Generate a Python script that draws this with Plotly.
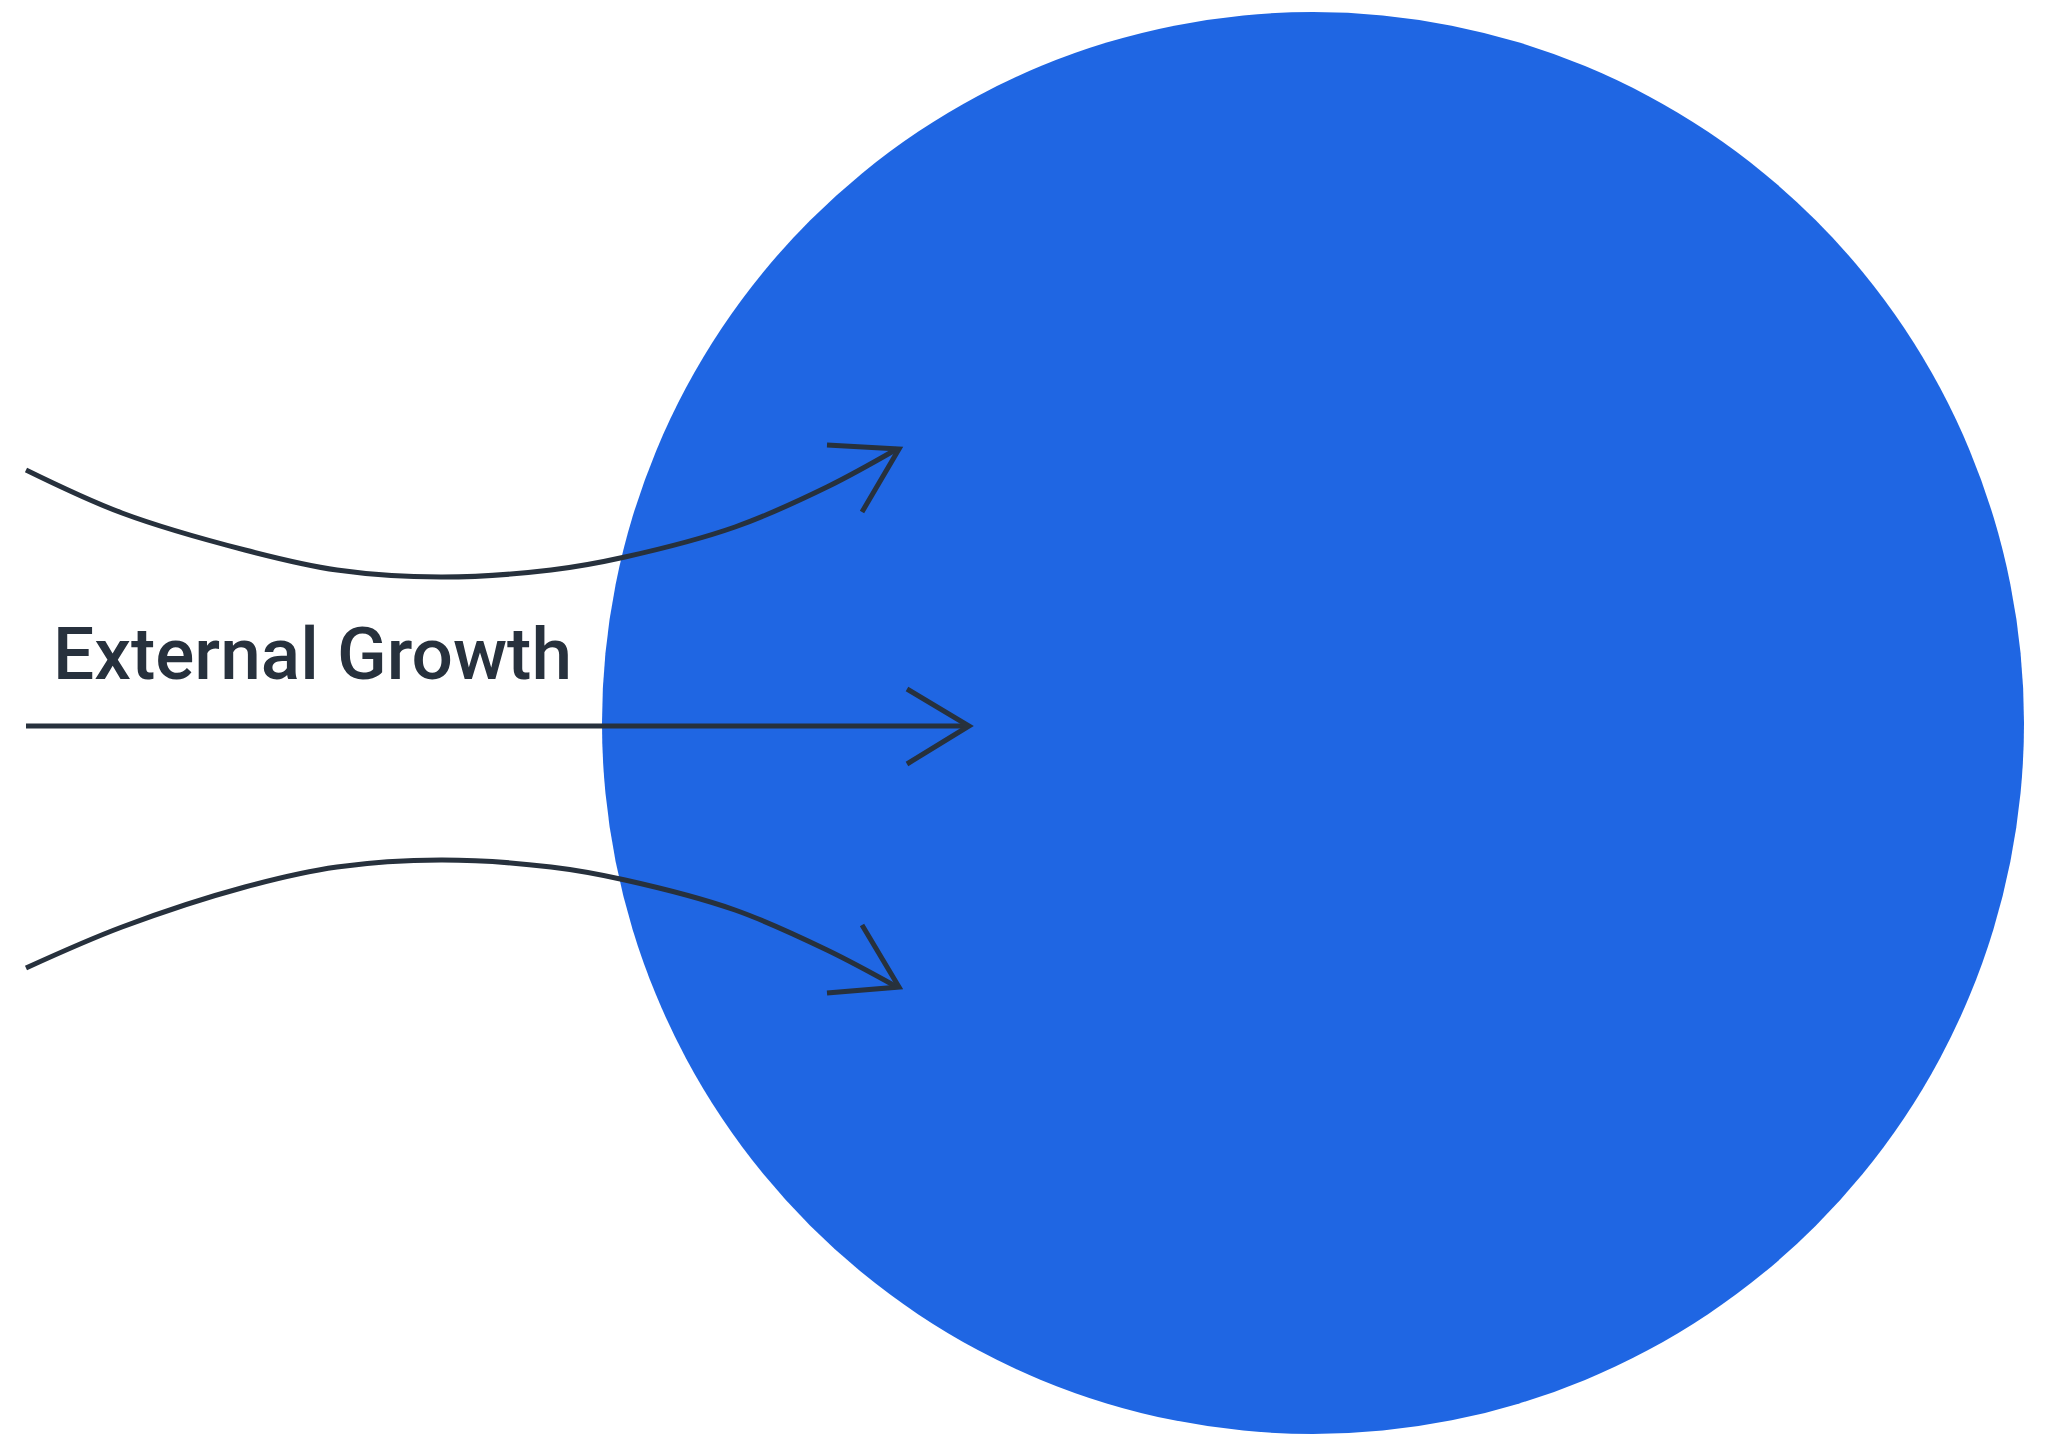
import plotly.graph_objects as go

# Canvas (pixel-based coordinate system, y downward)
W, H = 2052, 1440

# Circle
circle_center = [1313, 723]
circle_radius = 711
circle_color = "#1F66E3"
ink = "#27313D"

# Curved / straight arrows: shaft points
top_x = [26, 122, 245, 337, 441, 551, 625, 735, 827, 897]
top_y = [470, 513, 550, 570, 577, 570, 557, 527, 487, 449]
mid_x = [26, 969]
mid_y = [726, 726]
bot_x = [26, 122, 245, 337, 441, 551, 625, 735, 827, 897]
bot_y = [968, 927, 887, 867, 860, 867, 880, 910, 950, 987]

# Arrowheads: arm, tip, arm
top_head_x = [827, 899, 862]
top_head_y = [445, 449, 512]
mid_head_x = [907, 969, 907]
mid_head_y = [689, 726, 764]
bot_head_x = [827, 899, 862]
bot_head_y = [993, 987, 925]

label = "External Growth"
label_pos = [51, 654]

fig = go.Figure()

fig.add_shape(type="circle", xref="x", yref="y",
              x0=circle_center[0] - circle_radius, x1=circle_center[0] + circle_radius,
              y0=circle_center[1] - circle_radius, y1=circle_center[1] + circle_radius,
              fillcolor=circle_color, line=dict(width=0), layer="below")

lw = 5
for xs, ys, shape in [(top_x, top_y, "spline"), (mid_x, mid_y, "linear"), (bot_x, bot_y, "spline")]:
    fig.add_trace(go.Scatter(x=xs, y=ys, mode="lines",
                             line=dict(color=ink, width=lw, shape=shape, smoothing=1.0),
                             hoverinfo="skip", showlegend=False))
for xs, ys in [(top_head_x, top_head_y), (mid_head_x, mid_head_y), (bot_head_x, bot_head_y)]:
    fig.add_trace(go.Scatter(x=xs, y=ys, mode="lines",
                             line=dict(color=ink, width=lw),
                             hoverinfo="skip", showlegend=False))

fig.add_annotation(x=label_pos[0], y=label_pos[1], text=label, showarrow=False,
                   xanchor="left", yanchor="middle",
                   font=dict(family="Roboto", size=73, color=ink, weight=500))

fig.update_xaxes(range=[0, W], visible=False, fixedrange=True)
fig.update_yaxes(range=[H, 0], visible=False, fixedrange=True)
fig.update_layout(width=W, height=H, margin=dict(l=0, r=0, t=0, b=0),
                  plot_bgcolor="white", paper_bgcolor="white")

fig.write_html("out.html", config={"displayModeBar": False},
               post_script="document.body.style.margin='0';document.body.style.overflow='hidden';")
